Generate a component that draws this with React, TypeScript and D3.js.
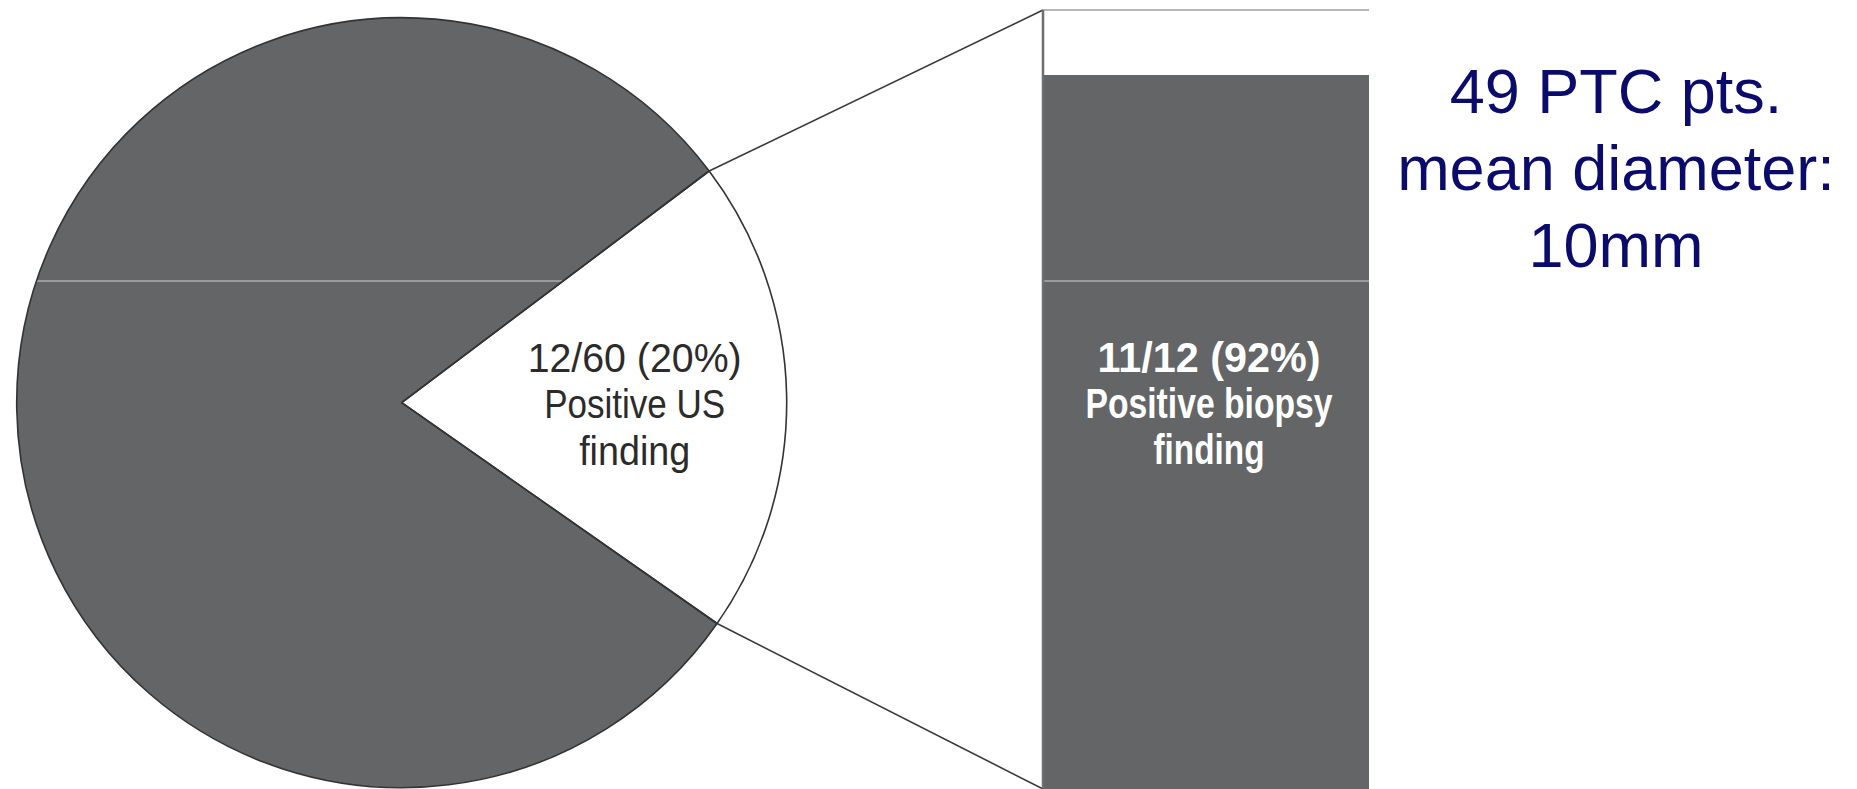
import React from "react";
import * as d3 from "d3";

// Ultrasound screening of 60 patients, then biopsy of the positive ones
const PIE_CATEGORIES = ["Positive US finding", "Negative US finding"];
const PIE_VALUES = [12, 48];
const BAR_CATEGORIES = ["Positive biopsy finding", "Negative biopsy finding"];
const BAR_VALUES = [11, 1];
const PIE_LABEL = ["12/60 (20%)", "Positive US", "finding"];
const BAR_LABEL = ["11/12 (92%)", "Positive biopsy", "finding"];
const NOTE_LINES = ["49 PTC pts.", "mean diameter:", "10mm"];

// condensed typeface look: each label line is fitted to its set width
const PIE_LABEL_WIDTHS = [214, 181, 111];
const BAR_LABEL_WIDTHS = [223, 247, 111];

const W = 1857;
const H = 789;

const DARK = "#646567";
const OUTLINE = "#333333";
const NAVY = "#0b0b6c";
const deg = Math.PI / 180;

export default function App() {
  // pie layout
  const cx = 401.7;
  const cy = 402.7;
  const radius = 385;
  const startAngle = 53 * deg;
  const pie = d3
    .pie<number>()
    .sort(null)
    .startAngle(startAngle)
    .endAngle(startAngle + 2 * Math.PI);
  const slices = pie(PIE_VALUES);
  const arc = d3.arc<d3.PieArcDatum<number>>().innerRadius(0).outerRadius(radius);
  const labelArc = d3.arc<d3.PieArcDatum<number>>().innerRadius(233).outerRadius(233);
  const pieFill = ["#ffffff", DARK];

  const onRim = (a: number) => [cx + radius * Math.sin(a), cy - radius * Math.cos(a)];
  const positive = slices[0];
  const rimTop = onRim(positive.startAngle);
  const rimBottom = onRim(positive.endAngle);
  const [lcx, lcy] = labelArc.centroid(positive);
  const lx = cx + lcx;
  const ly = cy + lcy;

  // stacked bar for the biopsy results
  const barX0 = 1043;
  const barX1 = 1369;
  const y = d3.scaleLinear().domain([0, d3.sum(BAR_VALUES)]).range([H, 10]);
  const stacked = BAR_VALUES.map((v, i) => {
    const lo = d3.sum(BAR_VALUES.slice(0, i));
    return { key: BAR_CATEGORIES[i], lo, hi: lo + v };
  });
  const barFill = [DARK, "#ffffff"];
  const barTop = y(d3.sum(BAR_VALUES));
  const barBottom = y(0);
  const barMid = (barX0 + barX1) / 2;

  // faint horizontal guide crossing the dark areas
  const guideY = 281;

  return (
    <svg
      width={W}
      height={H}
      style={{ position: "absolute", left: 0, top: 0, background: "#fff" }}
    >
      <g transform={`translate(${cx},${cy})`}>
        {slices.map((s, i) => (
          <path key={PIE_CATEGORIES[i]} d={arc(s) || ""} fill={pieFill[i]} />
        ))}
      </g>

      {stacked.map((s, i) => (
        <rect
          key={s.key}
          x={barX0}
          y={y(s.hi)}
          width={barX1 - barX0}
          height={y(s.lo) - y(s.hi)}
          fill={barFill[i]}
        />
      ))}

      <line x1={0} x2={barX1} y1={guideY} y2={guideY} stroke="#ffffff" strokeOpacity={0.7} strokeWidth={1} />

      <g transform={`translate(${cx},${cy})`}>
        {slices.map((s, i) => (
          <path
            key={PIE_CATEGORIES[i]}
            d={arc(s) || ""}
            fill="none"
            stroke={OUTLINE}
            strokeWidth={1.6}
            strokeLinejoin="round"
          />
        ))}
      </g>

      {/* connectors from the positive slice to the biopsy bar */}
      <line x1={rimTop[0]} y1={rimTop[1]} x2={barX0} y2={barTop} stroke="#3a3a3a" strokeWidth={1.6} />
      <line x1={rimBottom[0]} y1={rimBottom[1]} x2={barX0} y2={barBottom} stroke="#3a3a3a" strokeWidth={1.6} />

      <line x1={barX0} x2={barX1} y1={barTop} y2={barTop} stroke="#a0a0a0" strokeWidth={1.5} />
      <line x1={barX0} x2={barX0} y1={barTop} y2={barBottom} stroke="#6e6e6e" strokeWidth={2.5} />

      <g
        fontFamily="'Liberation Sans', Arial, sans-serif"
        fontSize={41}
        fill="#2b2b2b"
        textAnchor="middle"
      >
        {PIE_LABEL.map((t, i) => (
          <text
            key={t}
            x={lx}
            y={ly - 27 + i * 46.5}
            textLength={PIE_LABEL_WIDTHS[i]}
            lengthAdjust="spacingAndGlyphs"
          >
            {t}
          </text>
        ))}
      </g>

      <g
        fontFamily="'Liberation Sans', Arial, sans-serif"
        fontSize={42}
        fontWeight="bold"
        fill="#ffffff"
        textAnchor="middle"
      >
        {BAR_LABEL.map((t, i) => (
          <text
            key={t}
            x={barMid + 3}
            y={372 + i * 46}
            textLength={BAR_LABEL_WIDTHS[i]}
            lengthAdjust="spacingAndGlyphs"
          >
            {t}
          </text>
        ))}
      </g>

      <g
        fontFamily="'Liberation Sans', Arial, sans-serif"
        fontSize={63}
        fill={NAVY}
        textAnchor="middle"
      >
        {NOTE_LINES.map((t, i) => (
          <text key={t} x={1616} y={113 + i * 77}>
            {t}
          </text>
        ))}
      </g>
    </svg>
  );
}
